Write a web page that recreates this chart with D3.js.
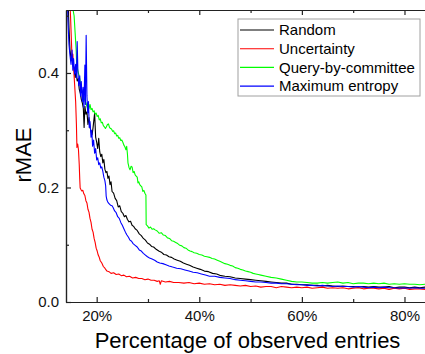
<!DOCTYPE html>
<html lang="en">
<head>
<meta charset="UTF-8">
<title>rMAE vs observed entries</title>
<script src="https://d3js.org/d3.v7.min.js"></script>
<style>
  body { margin: 0; background: #fff; }
  svg { display: block; font-family: "Liberation Sans", Arial, sans-serif; }
  .axis path, .axis line { stroke: #222; stroke-width: 1.2; }
  .axis text { font-size: 15px; fill: #111; }
</style>
</head>
<body>
<svg id="chart" width="425" height="354"></svg>
<script>
// series names and colours (legend order)
const seriesNames = ["Random", "Uncertainty", "Query-by-committee", "Maximum entropy"];
const seriesColors = ["#000000", "#ff0000", "#00ff00", "#0000ff"];

// [percentage observed, rMAE]
const randomPts = [[14.3,0.56],[14.6,0.48],[14.8,0.44],[15.0,0.425],[15.2,0.432],[15.4,0.412],[15.6,0.408],[15.8,0.392],[16.0,0.401],[16.2,0.386],[16.4,0.39],[16.6,0.372],[16.8,0.365],[17.0,0.354],[17.2,0.348],[17.4,0.338],[17.55,0.305],[17.7,0.342],[17.9,0.328],[18.1,0.332],[18.3,0.31],[18.5,0.322],[18.7,0.305],[18.9,0.298],[19.1,0.292],[19.3,0.305],[19.6,0.33],[19.8,0.288],[20.0,0.279],[20.2,0.268],[20.4,0.286],[20.6,0.262],[20.8,0.254],[21.0,0.258],[21.2,0.243],[21.4,0.249],[21.6,0.232],[21.8,0.226],[22.0,0.228],[22.2,0.216],[22.4,0.22],[22.6,0.205],[22.8,0.21],[23.0,0.193],[23.3,0.19],[23.6,0.181],[23.9,0.177],[24.2,0.166],[24.5,0.168],[24.8,0.158],[25.1,0.155],[25.4,0.149],[25.7,0.151],[26.0,0.144],[26.3,0.14],[26.6,0.141],[26.9,0.134],[27.2,0.132],[27.5,0.128],[27.9,0.125],[28.3,0.119],[28.7,0.116],[29.1,0.111],[29.5,0.108],[29.9,0.103],[30.3,0.101],[30.7,0.097],[31.1,0.096],[31.6,0.092],[32.1,0.089],[32.6,0.087],[33.1,0.083],[33.6,0.082],[34.1,0.079],[34.6,0.078],[35.1,0.075],[35.7,0.073],[36.3,0.071],[36.9,0.068],[37.5,0.066],[38.1,0.064],[38.8,0.061],[39.5,0.059],[40.2,0.057],[41.0,0.054],[41.8,0.053],[42.6,0.050],[43.4,0.049],[44.2,0.046],[45,0.045],[46,0.044],[47,0.042],[48,0.041],[49,0.040],[50,0.039],[51,0.038],[52,0.037],[53,0.036],[54,0.035],[55,0.034],[56,0.033],[57,0.033],[58,0.031],[59,0.031],[60,0.030],[61,0.030],[62,0.029],[63,0.029],[64,0.028],[65,0.029],[66,0.028],[67,0.027],[68,0.028],[69,0.027],[70,0.027],[71,0.026],[72,0.027],[73,0.026],[74,0.027],[75,0.026],[76,0.026],[77,0.027],[78,0.025],[79,0.026],[80,0.026],[81,0.025],[82,0.026],[83,0.025],[84,0.026],[85,0.025]];

const uncertaintyPts = [[14.6,0.56],[14.9,0.50],[15.1,0.45],[15.2,0.425],[15.35,0.433],[15.5,0.41],[15.7,0.38],[15.9,0.35],[16.05,0.31],[16.15,0.27],[16.3,0.276],[16.45,0.266],[16.6,0.24],[16.7,0.215],[16.78,0.199],[16.9,0.197],[17.1,0.194],[17.3,0.195],[17.5,0.189],[17.7,0.186],[17.9,0.177],[18.1,0.173],[18.3,0.162],[18.5,0.157],[18.7,0.146],[18.9,0.139],[19.1,0.127],[19.3,0.122],[19.5,0.111],[19.7,0.104],[19.9,0.094],[20.1,0.089],[20.3,0.082],[20.5,0.078],[20.7,0.072],[21.0,0.068],[21.3,0.062],[21.6,0.059],[22.0,0.054],[22.4,0.053],[22.8,0.050],[23.3,0.051],[23.8,0.048],[24.3,0.049],[24.8,0.046],[25.3,0.047],[25.8,0.044],[26.4,0.045],[27.0,0.042],[27.6,0.043],[28.2,0.041],[28.8,0.041],[29.4,0.039],[30.0,0.040],[30.6,0.038],[31.2,0.038],[31.8,0.036],[32.2,0.037],[32.4,0.031],[32.6,0.037],[33.4,0.035],[34.2,0.036],[35,0.034],[36,0.034],[37,0.033],[38,0.034],[39,0.032],[40,0.033],[41,0.031],[42,0.032],[43,0.030],[44,0.031],[45,0.029],[46,0.030],[47,0.029],[48,0.028],[49,0.029],[50,0.027],[51,0.028],[52,0.026],[53,0.027],[54,0.027],[55,0.025],[56,0.027],[57,0.026],[58,0.025],[59,0.026],[60,0.025],[61,0.026],[62,0.024],[63,0.025],[64,0.026],[65,0.024],[66,0.025],[67,0.024],[68,0.025],[69,0.023],[70,0.024],[71,0.025],[72,0.023],[73,0.024],[74,0.024],[75,0.023],[76,0.024],[77,0.022],[78,0.024],[79,0.023],[80,0.024],[81,0.022],[82,0.023],[83,0.023],[84,0.022],[85,0.023]];

const committeePts = [[14.7,0.57],[15.1,0.53],[15.4,0.51],[15.6,0.50],[15.8,0.47],[16.0,0.44],[16.1,0.415],[16.3,0.405],[16.5,0.398],[16.7,0.39],[16.9,0.38],[17.1,0.37],[17.3,0.365],[17.5,0.358],[17.7,0.352],[17.9,0.348],[18.1,0.342],[18.3,0.335],[18.5,0.338],[18.7,0.345],[18.9,0.336],[19.1,0.338],[19.3,0.332],[19.5,0.334],[19.7,0.328],[19.9,0.33],[20.1,0.324],[20.3,0.326],[20.5,0.318],[20.7,0.32],[20.9,0.313],[21.1,0.314],[21.3,0.308],[21.5,0.306],[21.7,0.303],[21.9,0.306],[22.1,0.31],[22.3,0.311],[22.5,0.305],[22.7,0.303],[22.9,0.302],[23.1,0.298],[23.3,0.299],[23.5,0.294],[23.7,0.295],[23.9,0.29],[24.1,0.291],[24.3,0.286],[24.5,0.287],[24.7,0.282],[24.9,0.283],[25.1,0.279],[25.3,0.274],[25.5,0.271],[25.7,0.266],[25.85,0.272],[26.0,0.258],[26.1,0.243],[26.3,0.235],[26.5,0.231],[26.7,0.237],[26.9,0.236],[27.1,0.226],[27.3,0.228],[27.5,0.222],[27.7,0.22],[27.9,0.218],[28.05,0.208],[28.2,0.21],[28.4,0.205],[28.6,0.203],[28.8,0.201],[29.0,0.193],[29.2,0.195],[29.4,0.19],[29.6,0.187],[29.65,0.135],[29.9,0.133],[30.2,0.129],[30.5,0.131],[30.8,0.127],[31.1,0.128],[31.4,0.126],[31.8,0.124],[32.2,0.12],[32.6,0.121],[33.0,0.117],[33.4,0.116],[33.8,0.112],[34.2,0.111],[34.6,0.107],[35.0,0.106],[35.4,0.104],[35.8,0.102],[36.2,0.099],[36.6,0.098],[37.0,0.095],[37.4,0.094],[37.8,0.091],[38.2,0.089],[38.6,0.088],[39.0,0.086],[39.5,0.085],[40.0,0.083],[40.5,0.082],[41.0,0.080],[41.5,0.079],[42.0,0.078],[42.5,0.076],[43.0,0.075],[43.5,0.073],[44.0,0.071],[44.5,0.069],[45.0,0.067],[45.5,0.066],[46.0,0.064],[46.5,0.063],[47.0,0.060],[47.5,0.059],[48.0,0.057],[48.5,0.056],[49.0,0.054],[49.5,0.053],[50.0,0.052],[50.5,0.050],[51.0,0.049],[51.5,0.048],[52,0.047],[53,0.045],[54,0.043],[55,0.042],[56,0.040],[57,0.038],[58,0.036],[59,0.035],[60,0.035],[61,0.034],[62,0.033],[63,0.033],[64,0.034],[65,0.033],[66,0.034],[67,0.035],[68,0.033],[69,0.034],[70,0.032],[71,0.033],[72,0.033],[73,0.032],[74,0.033],[75,0.032],[76,0.033],[77,0.031],[78,0.032],[79,0.031],[80,0.032],[81,0.031],[82,0.031],[83,0.030],[84,0.031],[85,0.031]];

const entropyPts = [[14.2,0.56],[14.4,0.49],[14.6,0.45],[14.8,0.43],[15.0,0.415],[15.2,0.44],[15.35,0.405],[15.5,0.425],[15.7,0.398],[15.9,0.415],[16.05,0.392],[16.2,0.455],[16.35,0.40],[16.5,0.378],[16.7,0.395],[16.85,0.36],[17.0,0.385],[17.2,0.35],[17.35,0.375],[17.5,0.34],[17.7,0.414],[17.8,0.345],[17.95,0.466],[18.1,0.36],[18.25,0.33],[18.4,0.35],[18.55,0.305],[18.7,0.315],[18.9,0.288],[19.05,0.3],[19.2,0.272],[19.4,0.283],[19.6,0.26],[19.8,0.268],[20.0,0.248],[20.2,0.252],[20.4,0.24],[20.6,0.243],[20.8,0.234],[21.0,0.236],[21.2,0.228],[21.4,0.218],[21.6,0.212],[21.75,0.203],[21.85,0.185],[22.0,0.178],[22.2,0.174],[22.4,0.172],[22.7,0.169],[23.0,0.168],[23.2,0.165],[23.5,0.159],[23.8,0.156],[24.1,0.149],[24.4,0.146],[24.7,0.139],[25.0,0.134],[25.3,0.128],[25.6,0.122],[25.9,0.117],[26.2,0.113],[26.5,0.108],[26.8,0.106],[27.1,0.102],[27.5,0.099],[27.9,0.096],[28.3,0.091],[28.7,0.089],[29.1,0.085],[29.5,0.082],[29.9,0.079],[30.3,0.077],[30.8,0.075],[31.3,0.073],[31.8,0.070],[32.3,0.068],[32.9,0.067],[33.5,0.065],[34.1,0.063],[34.8,0.061],[35.6,0.059],[36.4,0.058],[37.2,0.056],[38.0,0.054],[38.8,0.052],[39.6,0.051],[40.4,0.049],[41.2,0.047],[42.0,0.045],[43,0.045],[44,0.043],[45,0.042],[46,0.041],[47,0.039],[48,0.038],[49,0.037],[50,0.036],[51,0.035],[52,0.035],[53,0.034],[54,0.033],[55,0.033],[56,0.032],[57,0.032],[58,0.031],[59,0.030],[60,0.030],[61,0.029],[62,0.029],[63,0.028],[64,0.029],[65,0.028],[66,0.027],[67,0.028],[68,0.027],[69,0.027],[70,0.026],[71,0.027],[72,0.026],[73,0.025],[74,0.026],[75,0.025],[76,0.026],[77,0.025],[78,0.025],[79,0.024],[80,0.025],[81,0.024],[82,0.025],[83,0.024],[84,0.024],[85,0.024]];

const xMajorTicks = [20, 40, 60, 80];
const xMinorTicks = [30, 50, 70];
const yMajorTicks = [0, 0.2, 0.4];
const yMinorTicks = [0.1, 0.3, 0.5];

const allSeries = [randomPts, uncertaintyPts, committeePts, entropyPts];

const svg = d3.select("#chart");
const m = { left: 66, top: 10, right: 425, bottom: 302 };

const x = d3.scaleLinear().domain([14.02, 84.0]).range([m.left, m.right]);
const y = d3.scaleLinear().domain([0, 0.51]).range([m.bottom, m.top]);

svg.append("defs").append("clipPath").attr("id", "plotClip")
  .append("rect")
  .attr("x", m.left).attr("y", m.top)
  .attr("width", m.right - m.left).attr("height", m.bottom - m.top);

// lines
const line = d3.line().x(d => x(d[0])).y(d => y(d[1]));
const lines = svg.append("g").attr("clip-path", "url(#plotClip)");
allSeries.forEach((pts, i) => {
  lines.append("path")
    .datum(pts)
    .attr("d", line)
    .attr("fill", "none")
    .attr("stroke", seriesColors[i])
    .attr("stroke-width", 1.1)
    .attr("stroke-linejoin", "round");
});

// axes (ticks point inward)
const fmtPct = d => d + "%";
svg.append("g").attr("class", "axis")
  .attr("transform", `translate(0,${m.bottom})`)
  .call(d3.axisBottom(x).tickValues(xMajorTicks).tickFormat(fmtPct)
    .tickSizeInner(-5).tickSizeOuter(0).tickPadding(8));
svg.append("g").attr("class", "axis")
  .attr("transform", `translate(0,${m.bottom})`)
  .call(d3.axisBottom(x).tickValues(xMinorTicks).tickFormat("")
    .tickSizeInner(-3).tickSizeOuter(0));

svg.append("g").attr("class", "axis")
  .attr("transform", `translate(0,${m.top})`)
  .call(d3.axisTop(x).tickValues(xMajorTicks).tickFormat("")
    .tickSizeInner(-5).tickSizeOuter(0));
svg.append("g").attr("class", "axis")
  .attr("transform", `translate(0,${m.top})`)
  .call(d3.axisTop(x).tickValues(xMinorTicks).tickFormat("")
    .tickSizeInner(-3).tickSizeOuter(0));

svg.append("g").attr("class", "axis")
  .attr("transform", `translate(${m.left},0)`)
  .call(d3.axisLeft(y).tickValues(yMajorTicks).tickFormat(d3.format(".1f"))
    .tickSizeInner(-5).tickSizeOuter(0).tickPadding(7));
svg.append("g").attr("class", "axis")
  .attr("transform", `translate(${m.left},0)`)
  .call(d3.axisLeft(y).tickValues(yMinorTicks).tickFormat("")
    .tickSizeInner(-3).tickSizeOuter(0));

// titles
svg.append("text")
  .attr("x", (95 + 400) / 2).attr("y", 348)
  .attr("text-anchor", "middle")
  .style("font-size", "22px")
  .text("Percentage of observed entries");

svg.append("text")
  .attr("transform", `translate(31,155) rotate(-90)`)
  .attr("text-anchor", "middle")
  .style("font-size", "22px")
  .text("rMAE");

// legend
const lg = svg.append("g").attr("transform", "translate(238,19)");
lg.append("rect")
  .attr("width", 182).attr("height", 77)
  .attr("fill", "#fff").attr("stroke", "#a0a0a0").attr("stroke-width", 1);
seriesNames.forEach((name, i) => {
  const yy = 11 + i * 18.7;
  lg.append("line")
    .attr("x1", 2).attr("x2", 36).attr("y1", yy).attr("y2", yy)
    .attr("stroke", seriesColors[i]).attr("stroke-width", 1.1);
  lg.append("text")
    .attr("x", 41).attr("y", yy).attr("dy", "0.35em")
    .style("font-size", "15px")
    .text(name);
});
</script>
</body>
</html>
